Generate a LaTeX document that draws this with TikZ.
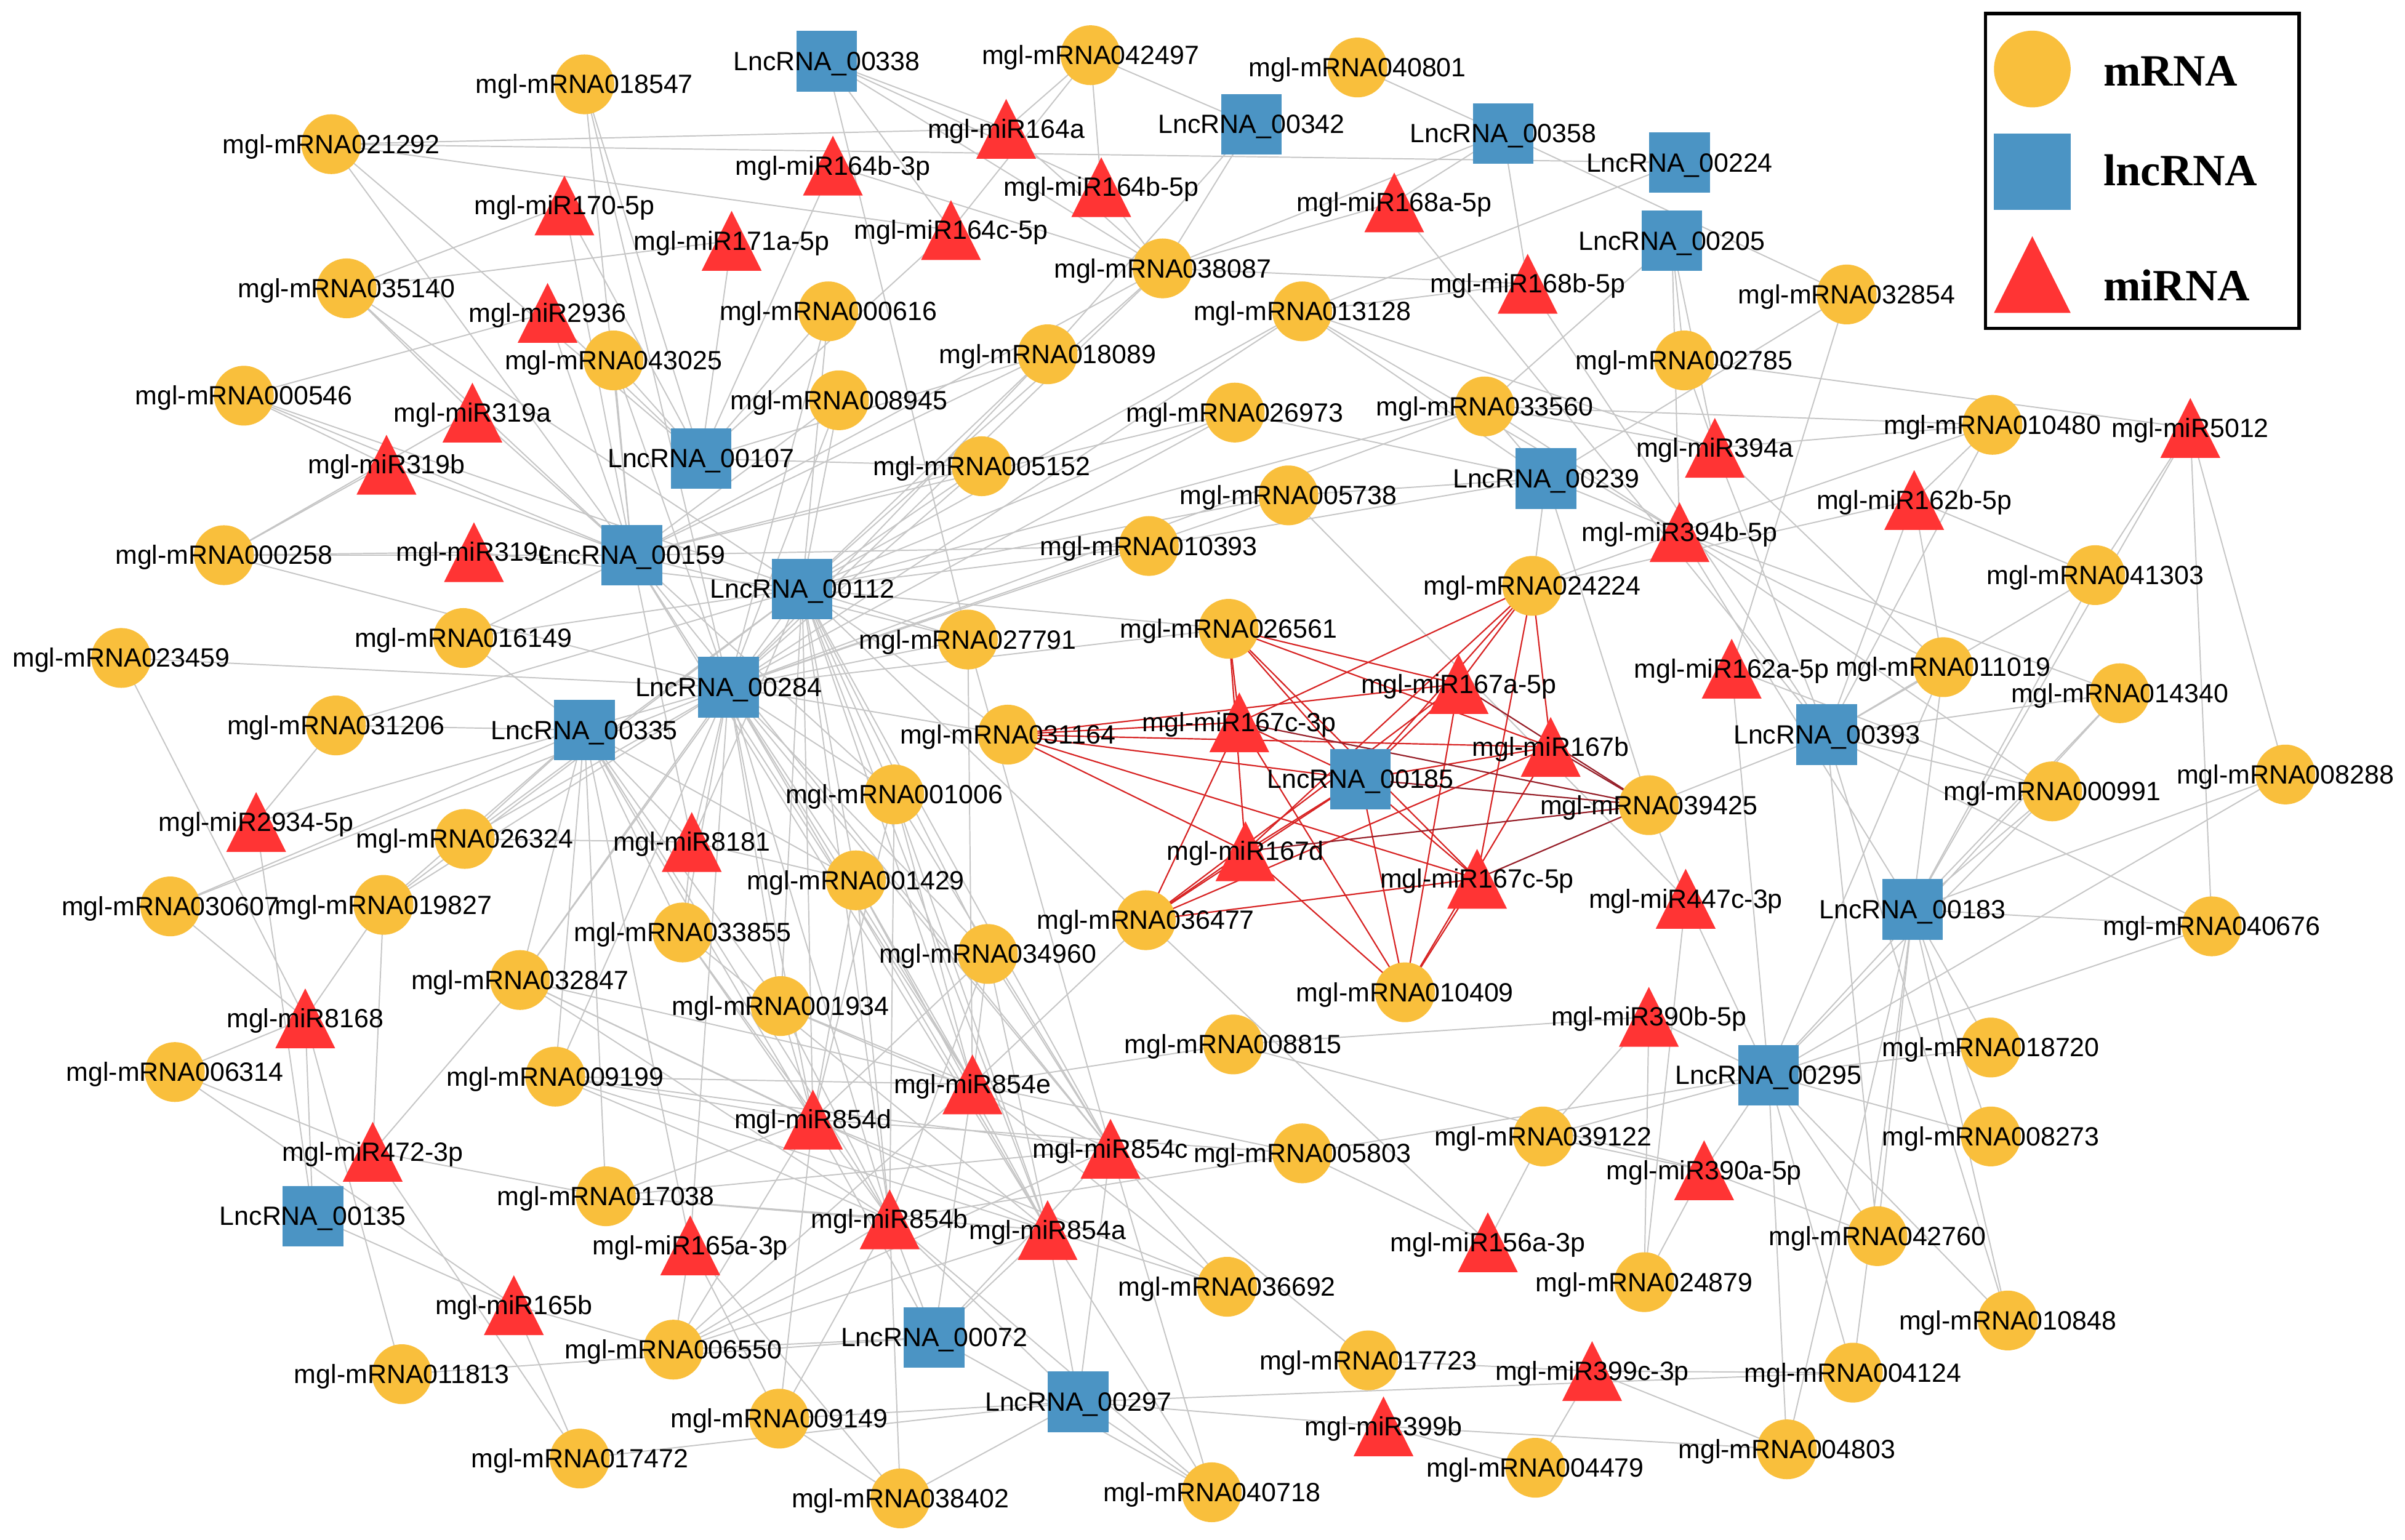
\documentclass[tikz,border=0pt]{standalone}
\usepackage{fontspec}
\setmainfont{Liberation Sans}
\newfontfamily\legfont{Liberation Serif}
\definecolor{morange}{RGB}{249,191,60}
\definecolor{lblue}{RGB}{75,148,196}
\definecolor{mired}{RGB}{255,52,52}
\definecolor{egray}{RGB}{198,198,198}
\definecolor{ered}{RGB}{215,35,35}
\definecolor{edark}{RGB}{150,30,40}
\pgfdeclarelayer{edges}
\pgfdeclarelayer{labels}
\pgfsetlayers{edges,main,labels}
\tikzset{
  mr/.style={circle, fill=morange, minimum size=0.78cm, inner sep=0pt},
  ln/.style={rectangle, fill=lblue, minimum size=0.79cm, inner sep=0pt},
  mi/.style={coordinate},
  lbl/.style={font=\fontsize{9.8}{11}\selectfont, inner sep=0pt, anchor=base},
  edge/.style={draw=egray, line width=0.45pt},
  redge/.style={draw=ered, line width=0.5pt},
  dedge/.style={draw=edark, line width=0.5pt},
  legtext/.style={font={\legfont\bfseries\fontsize{16.6}{18}\selectfont}, inner sep=0pt, anchor=base west},
}
\newcommand\MR[4]{\node[mr] (#1) at (#2,#3) {};
  \begin{pgfonlayer}{labels}\node[lbl] (#1-t) at (#2,#3+6) {#4};\end{pgfonlayer}}
\newcommand\LN[4]{\node[ln] (#1) at (#2,#3) {};
  \begin{pgfonlayer}{labels}\node[lbl] (#1-t) at (#2,#3+6) {#4};\end{pgfonlayer}}
\newcommand\MI[4]{\node[mi] (#1) at (#2,#3) {};
  \fill[mired] (#2,#3-19.5) -- (#2+19.5,#3+19.5) -- (#2-19.5,#3+19.5) -- cycle;
  \begin{pgfonlayer}{labels}\node[lbl] (#1-t) at (#2,#3+6) {#4};\end{pgfonlayer}}
\begin{document}
\begin{tikzpicture}[x=0.02cm,y=-0.02cm]
\useasboundingbox (0,0) rectangle (1568,1004);
% mRNA
\MR{m018547}{381}{55}{mgl-mRNA018547}
\MR{m021292}{216}{94}{mgl-mRNA021292}
\MR{m035140}{226}{188}{mgl-mRNA035140}
\MR{m000546}{159}{258}{mgl-mRNA000546}
\MR{m000258}{146}{362}{mgl-mRNA000258}
\MR{m023459}{79}{429}{mgl-mRNA023459}
\MR{m016149}{302}{416}{mgl-mRNA016149}
\MR{m031206}{219}{473}{mgl-mRNA031206}
\MR{m026324}{303}{547}{mgl-mRNA026324}
\MR{m030607}{111}{591}{mgl-mRNA030607}
\MR{m019827}{250}{590}{mgl-mRNA019827}
\MR{m032847}{339}{639}{mgl-mRNA032847}
\MR{m006314}{114}{699}{mgl-mRNA006314}
\MR{m009199}{362}{702}{mgl-mRNA009199}
\MR{m017038}{395}{780}{mgl-mRNA017038}
\MR{m011813}{262}{896}{mgl-mRNA011813}
\MR{m017472}{378}{951}{mgl-mRNA017472}
\MR{m006550}{439}{880}{mgl-mRNA006550}
\MR{m009149}{508}{925}{mgl-mRNA009149}
\MR{m038402}{587}{977}{mgl-mRNA038402}
\MR{m040718}{790}{973}{mgl-mRNA040718}
\MR{m036692}{800}{839}{mgl-mRNA036692}
\MR{m017723}{892}{887}{mgl-mRNA017723}
\MR{m004479}{1001}{957}{mgl-mRNA004479}
\MR{m004803}{1165}{945}{mgl-mRNA004803}
\MR{m004124}{1208}{895}{mgl-mRNA004124}
\MR{m010848}{1309}{861}{mgl-mRNA010848}
\MR{m042760}{1224}{806}{mgl-mRNA042760}
\MR{m024879}{1072}{836}{mgl-mRNA024879}
\MR{m008273}{1298}{741}{mgl-mRNA008273}
\MR{m018720}{1298}{683}{mgl-mRNA018720}
\MR{m039122}{1006}{741}{mgl-mRNA039122}
\MR{m005803}{849}{752}{mgl-mRNA005803}
\MR{m008815}{804}{681}{mgl-mRNA008815}
\MR{m040676}{1442}{604}{mgl-mRNA040676}
\MR{m008288}{1490}{505}{mgl-mRNA008288}
\MR{m000991}{1338}{516}{mgl-mRNA000991}
\MR{m014340}{1382}{452}{mgl-mRNA014340}
\MR{m011019}{1267}{435}{mgl-mRNA011019}
\MR{m041303}{1366}{375}{mgl-mRNA041303}
\MR{m010480}{1299}{277}{mgl-mRNA010480}
\MR{m032854}{1204}{192}{mgl-mRNA032854}
\MR{m002785}{1098}{235}{mgl-mRNA002785}
\MR{m033560}{968}{265}{mgl-mRNA033560}
\MR{m013128}{849}{203}{mgl-mRNA013128}
\MR{m038087}{758}{175}{mgl-mRNA038087}
\MR{m040801}{885}{44}{mgl-mRNA040801}
\MR{m042497}{711}{36}{mgl-mRNA042497}
\MR{m000616}{540}{203}{mgl-mRNA000616}
\MR{m018089}{683}{231}{mgl-mRNA018089}
\MR{m043025}{400}{235}{mgl-mRNA043025}
\MR{m008945}{547}{261}{mgl-mRNA008945}
\MR{m026973}{805}{269}{mgl-mRNA026973}
\MR{m005152}{640}{304}{mgl-mRNA005152}
\MR{m005738}{840}{323}{mgl-mRNA005738}
\MR{m010393}{749}{356}{mgl-mRNA010393}
\MR{m026561}{801}{410}{mgl-mRNA026561}
\MR{m024224}{999}{382}{mgl-mRNA024224}
\MR{m027791}{631}{417}{mgl-mRNA027791}
\MR{m031164}{657}{479}{mgl-mRNA031164}
\MR{m001006}{583}{518}{mgl-mRNA001006}
\MR{m039425}{1075}{525}{mgl-mRNA039425}
\MR{m001429}{558}{574}{mgl-mRNA001429}
\MR{m033855}{445}{608}{mgl-mRNA033855}
\MR{m036477}{747}{600}{mgl-mRNA036477}
\MR{m034960}{644}{622}{mgl-mRNA034960}
\MR{m010409}{916}{647}{mgl-mRNA010409}
\MR{m001934}{509}{656}{mgl-mRNA001934}
% lncRNA
\LN{L338}{539}{40}{LncRNA\_00338}
\LN{L342}{816}{81}{LncRNA\_00342}
\LN{L358}{980}{87}{LncRNA\_00358}
\LN{L224}{1095}{106}{LncRNA\_00224}
\LN{L205}{1090}{157}{LncRNA\_00205}
\LN{L107}{457}{299}{LncRNA\_00107}
\LN{L239}{1008}{312}{LncRNA\_00239}
\LN{L159}{412}{362}{LncRNA\_00159}
\LN{L112}{523}{384}{LncRNA\_00112}
\LN{L284}{475}{448}{LncRNA\_00284}
\LN{L335}{381}{476}{LncRNA\_00335}
\LN{L393}{1191}{479}{LncRNA\_00393}
\LN{L185}{887}{508}{LncRNA\_00185}
\LN{L183}{1247}{593}{LncRNA\_00183}
\LN{L295}{1153}{701}{LncRNA\_00295}
\LN{L135}{204}{793}{LncRNA\_00135}
\LN{L072}{609}{872}{LncRNA\_00072}
\LN{L297}{703}{914}{LncRNA\_00297}
% miRNA
\MI{r164a}{656}{84}{mgl-miR164a}
\MI{r164b3}{543}{108}{mgl-miR164b-3p}
\MI{r164b5}{718}{122}{mgl-miR164b-5p}
\MI{r170}{368}{134}{mgl-miR170-5p}
\MI{r171}{477}{157}{mgl-miR171a-5p}
\MI{r164c5}{620}{150}{mgl-miR164c-5p}
\MI{r168a}{909}{132}{mgl-miR168a-5p}
\MI{r168b}{996}{185}{mgl-miR168b-5p}
\MI{r2936}{357}{204}{mgl-miR2936}
\MI{r319a}{308}{269}{mgl-miR319a}
\MI{r319b}{252}{303}{mgl-miR319b}
\MI{r319c}{309}{360}{mgl-miR319c}
\MI{r394a}{1118}{292}{mgl-miR394a}
\MI{r5012}{1428}{279}{mgl-miR5012}
\MI{r162b}{1248}{326}{mgl-miR162b-5p}
\MI{r394b}{1095}{347}{mgl-miR394b-5p}
\MI{r162a}{1129}{436}{mgl-miR162a-5p}
\MI{r167a}{951}{446}{mgl-miR167a-5p}
\MI{r167c3}{808}{471}{mgl-miR167c-3p}
\MI{r167b}{1011}{487}{mgl-miR167b}
\MI{r2934}{167}{536}{mgl-miR2934-5p}
\MI{r8181}{451}{549}{mgl-miR8181}
\MI{r167d}{812}{555}{mgl-miR167d}
\MI{r167c5}{963}{573}{mgl-miR167c-5p}
\MI{r447}{1099}{586}{mgl-miR447c-3p}
\MI{r8168}{199}{664}{mgl-miR8168}
\MI{r390b}{1075}{663}{mgl-miR390b-5p}
\MI{r854e}{634}{707}{mgl-miR854e}
\MI{r854d}{530}{730}{mgl-miR854d}
\MI{r472}{243}{751}{mgl-miR472-3p}
\MI{r854c}{724}{749}{mgl-miR854c}
\MI{r390a}{1111}{763}{mgl-miR390a-5p}
\MI{r854b}{580}{795}{mgl-miR854b}
\MI{r854a}{683}{802}{mgl-miR854a}
\MI{r165a}{450}{812}{mgl-miR165a-3p}
\MI{r156a}{970}{810}{mgl-miR156a-3p}
\MI{r165b}{335}{851}{mgl-miR165b}
\MI{r399c}{1038}{894}{mgl-miR399c-3p}
\MI{r399b}{902}{930}{mgl-miR399b}
% edges
\begin{pgfonlayer}{edges}
\foreach \a/\b in {
m021292/L224, m021292/r164a, m021292/r164c5, m021292/L159, m021292/L107,
m018547/L159, m018547/L107, m018547/L284,
m035140/r170, m035140/r171, m035140/L159, m035140/L112, m035140/r319a,
m000546/r2936, m000546/L159, m000546/L112, m000546/r319b,
r2936/L159, r2936/L107, r170/L159, r170/L107, r171/L107,
m043025/L159, m043025/L284, m043025/L107,
m000616/L107, m000616/L112, m000616/L284,
m008945/L112, m008945/L284, m008945/L159,
m018089/L112, m018089/L284, m018089/L159, m018089/L107, m018089/L342,
m038087/L342, m038087/r168a, m038087/r168b, m038087/L112, m038087/L159, m038087/L284, m038087/L338, m038087/L358,
L338/r164a, L338/r164b5, L338/r164c5, L338/m027791,
m042497/r164a, m042497/r164b5, m042497/L342, m042497/r164c5,
r164a/m038087, r164b3/m038087, r164b3/L107, r164b5/m038087, r164c5/L107,
m040801/L358,
m013128/r168b, m013128/L224, m013128/r394a, m013128/r394b, m013128/L112, m013128/L284, m013128/L239,
r168a/L358, r168a/L393, r168b/L358, r168b/L393, L358/m032854,
L205/m002785, L205/r394a, L205/r394b, L205/m033560,
m032854/L239, m032854/r162a,
m002785/r5012, m002785/r394a,
m033560/m010480, m033560/r394a, m033560/L112, m033560/L284, m033560/L239,
m026973/L112, m026973/L284, m026973/L159, m026973/L239,
m005738/L239, m005738/L112, m005738/L284, m005738/r447,
m010393/L239, m010393/L112, m010393/L284, m010393/L159,
m026561/L112, m026561/L284,
m024224/r394b, m024224/L239, m024224/r162b,
m005152/L107, m005152/L112, m005152/L159, m005152/L284,
m027791/L112, m027791/L284, m027791/L159, m027791/r854e, m027791/r854c,
m031164/L112, m031164/L284,
m001006/L112, m001006/L284, m001006/L159, m001006/r854d, m001006/r854e, m001006/r854c, m001006/r854a, m001006/r854b,
m001429/L112, m001429/L284, m001429/L335, m001429/r854d, m001429/r854b, m001429/r854e, m001429/r854a,
m033855/L284, m033855/L335, m033855/r8181, m033855/r854d, m033855/r854b, m033855/r854a,
m034960/L112, m034960/L284, m034960/r854e, m034960/r854c, m034960/r854a, m034960/r854d, m034960/r854b,
m036477/L112, m036477/r854e, m036477/r156a,
m001934/L284, m001934/L335, m001934/L112, m001934/r854d, m001934/r854b, m001934/r854e, m001934/r854c,
m009199/r854d, m009199/r854e, m009199/r854c, m009199/r854b, m009199/r854a, m009199/L335, m009199/L284,
m017038/r854d, m017038/r854b, m017038/r854a, m017038/r854c, m017038/L335, m017038/r472,
r165a/L284, r165a/L335, r165a/m006550, r165a/m009149, r165a/m038402,
m000258/r319c, m000258/L159, m000258/r319a, m000258/r319b, m000258/L284,
r319a/L159, r319b/L159, r319c/L112,
m023459/L284, m023459/r8168,
m016149/L159, m016149/L112, m016149/L335,
m031206/L335, m031206/L112, m031206/r2934,
r2934/L135, r2934/L284,
m030607/r8168, m030607/L335, m030607/L284,
m019827/L335, m019827/L284, m019827/L112, m019827/r472, m019827/r8168,
m026324/L335, m026324/L284, m026324/L112, m026324/r8181,
m032847/L335, m032847/L284, m032847/L112, m032847/r854d, m032847/r854b, m032847/r854e, m032847/r854a, m032847/r472,
m006314/r165b, m006314/r472, m006314/r8168,
r8168/L135, r8168/m011813, r472/m017472, L135/r165b,
r165b/m006550, r165b/m017472, m011813/L072, m017472/L297,
m006550/r854d, m006550/r854b, m006550/r854a, m006550/r854c, m006550/r854e, m006550/L072,
m009149/r854d, m009149/r854b, m009149/L297, m009149/m038402,
m038402/L297, m038402/r854b,
L072/r854d, L072/r854b, L072/r854e, L072/r854a, L072/r854c,
L297/r854a, L297/r854c, L297/r854b, L297/m040718, L297/m004124, L297/r399b,
r399b/m004479, r399b/m004803,
r399c/m004479, r399c/m004124, r399c/m004803, r399c/m017723,
m017723/r854c,
m040718/r854a, m040718/r854c, m040718/r854b, m040718/L072,
m036692/r854c, m036692/r854a, m036692/r854e, m036692/r854d,
m004803/L295, m004803/L183, m004124/L295, m004124/L183,
m010848/L295, m010848/L183, m010848/L393,
m042760/L295, m042760/L183, m042760/L393, m042760/r390a,
m008273/L295, m008273/L183, m018720/L295, m018720/L183,
m024879/r390a, m024879/r390b, m024879/r447,
r390a/L295, r390a/m039122,
m039122/r390b, m039122/r156a, m039122/L295, L295/m005803,
m005803/r156a,
m008815/r390b, m008815/r390a, m008815/r854e,
m005803/r854e, m005803/r854b, m005803/r854d,
r390b/L295, r447/m039425, r447/L295,
m039425/L393, m039425/L239,
r394a/m010480, r394a/m011019, r394a/L393,
m010480/r394b, m010480/L393, m010480/r162b,
r5012/m041303, r5012/m040676, r5012/m008288, r5012/L183,
r162b/m041303, r162b/L393, r162b/m011019,
m041303/L393, m041303/L183,
m011019/r394b, m011019/L393, m011019/L183, m011019/L295,
m014340/L393, m014340/L183, m014340/L295,
m000991/L393, m000991/L183, m000991/L295, m000991/r162a,
m008288/L183, m008288/L295,
m040676/L183, m040676/L295, m040676/L393,
r162a/L295,
r394b/m000991, r394b/m014340, r394b/L183, r394b/L239, r394b/m033560,
r854a/L112, r854a/L284, r854a/L159, r854b/L112, r854b/L284, r854b/L335,
r854c/L112, r854c/L284, r854c/L159, r854d/L284, r854d/L335, r854d/L112,
r854e/L112, r854e/L284, r854e/L159,
r8181/L284, r8181/L335, r8181/L159, r8181/L112, r8181/m001429}
  \draw[edge] (\a.center) -- (\b.center);
\foreach \r in {r167a,r167c3,r167b,r167d,r167c5,L185}
  \foreach \t in {m026561,m024224,m010409,m036477,m031164}
    \draw[redge] (\r.center) -- (\t.center);
\foreach \r in {r167a,r167c3,r167b,r167d,r167c5}
  \draw[redge] (\r.center) -- (L185.center);
\foreach \r in {r167a,r167c3,r167b,r167d,r167c5,L185}
  \draw[dedge] (\r.center) -- (m039425.center);
\end{pgfonlayer}
% legend
\draw[line width=1.2pt] (1294.5,8.8) rectangle (1499,214);
\node[circle, fill=morange, minimum size=1cm, inner sep=0pt] (legc) at (1325,45) {};
\node[rectangle, fill=lblue, minimum size=1cm, inner sep=0pt] (legs) at (1325,112) {};
\node[coordinate] (legt) at (1325,179) {};
\fill[mired] (1325,154) -- (1350,204) -- (1300,204) -- cycle;
\node[legtext] (legm) at (1371,56) {mRNA};
\node[legtext] (legl) at (1371,121) {lncRNA};
\node[legtext] (legi) at (1371,196) {miRNA};
\end{tikzpicture}
\end{document}
